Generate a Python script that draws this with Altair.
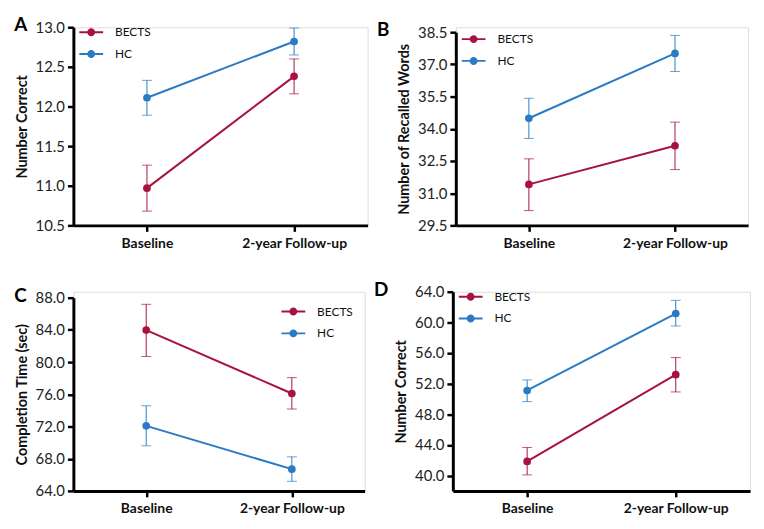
import altair as alt
import pandas as pd

groups = ["BECTS", "HC"]
times = ["Baseline", "2-year Follow-up"]
colors = ["#A8123E", "#2B7BC4"]

# Panel A
a_bects_mean = [10.97, 12.38]
a_bects_lo = [10.68, 12.16]
a_bects_hi = [11.26, 12.60]
a_hc_mean = [12.11, 12.82]
a_hc_lo = [11.89, 12.65]
a_hc_hi = [12.33, 12.99]

# Panel B
b_bects_mean = [31.41, 33.21]
b_bects_lo = [30.19, 32.10]
b_bects_hi = [32.60, 34.31]
b_hc_mean = [34.49, 37.51]
b_hc_lo = [33.55, 36.67]
b_hc_hi = [35.42, 38.35]

# Panel C
c_bects_mean = [83.98, 76.10]
c_bects_lo = [80.70, 74.17]
c_bects_hi = [87.18, 78.07]
c_hc_mean = [72.08, 66.70]
c_hc_lo = [69.60, 65.19]
c_hc_hi = [74.58, 68.23]

# Panel D
d_bects_mean = [41.85, 53.18]
d_bects_lo = [40.09, 50.92]
d_bects_hi = [43.66, 55.41]
d_hc_mean = [51.11, 61.16]
d_hc_lo = [49.66, 59.53]
d_hc_hi = [52.49, 62.88]

a_ticks = [10.5, 11.0, 11.5, 12.0, 12.5, 13.0]
b_ticks = [29.5, 31.0, 32.5, 34.0, 35.5, 37.0, 38.5]
c_ticks = [64.0, 68.0, 72.0, 76.0, 80.0, 84.0, 88.0]
d_ticks = [40.0, 44.0, 48.0, 52.0, 56.0, 60.0, 64.0]

FONT = "Lato"
LEG_PATH = "M-1.5,-0.12H-0.4V0.12H-1.5ZM0.4,-0.12H1.5V0.12H0.4ZM0.5,0A0.5,0.5,0,1,1,-0.5,0A0.5,0.5,0,1,1,0.5,0Z"


def make_df(bm, bl, bh, hm, hl, hh):
    rows = []
    for g, m, lo, hi in [("BECTS", bm, bl, bh), ("HC", hm, hl, hh)]:
        for i, t in enumerate(times):
            rows.append({"group": g, "time": t, "mean": m[i], "lo": lo[i], "hi": hi[i]})
    return pd.DataFrame(rows)


def panel(df, letter, ytitle, domain, ticks, w, h, yrange, leg, dx):
    base = alt.Chart(df)
    x = alt.X("time:N", sort=times, scale=alt.Scale(type="point", padding=0.5),
              axis=alt.Axis(title=None, labelAngle=0, labelFont=FONT, labelFontSize=14,
                            labelFontWeight="bold", labelColor="#111", labelPadding=5,
                            domainColor="black", domainWidth=3, tickColor="black",
                            tickWidth=2.5, tickSize=6))
    yscale = alt.Scale(domain=domain, nice=False, zero=False, range=yrange)
    yaxis = alt.Axis(values=ticks, format=".1f", title=ytitle, titleFont=FONT,
                     titleFontSize=14.5, titleFontWeight="bold", titleColor="#111",
                     titlePadding=6, labelFont=FONT, labelFontSize=15, labelColor="#222",
                     labelPadding=3, domainColor="black", domainWidth=3,
                     tickColor="black", tickWidth=2.5, tickSize=6, grid=False)
    col = alt.Color("group:N", scale=alt.Scale(domain=groups, range=colors), legend=None)
    rule = base.mark_rule(strokeWidth=1).encode(
        x=x, y=alt.Y("lo:Q", scale=yscale, axis=yaxis), y2="hi:Q", color=col)
    cap_lo = base.mark_tick(size=10, thickness=1).encode(
        x=x, y=alt.Y("lo:Q", scale=yscale, axis=yaxis), color=col)
    cap_hi = base.mark_tick(size=10, thickness=1).encode(
        x=x, y=alt.Y("hi:Q", scale=yscale, axis=yaxis), color=col)
    line = base.mark_line(strokeWidth=2).encode(
        x=x, y=alt.Y("mean:Q", scale=yscale, axis=yaxis), color=col, detail="group:N")
    pts = base.mark_circle(size=60, opacity=1).encode(
        x=x, y=alt.Y("mean:Q", scale=yscale, axis=yaxis),
        fill=alt.Fill("group:N", scale=alt.Scale(domain=groups, range=colors),
                      legend=leg))
    return alt.layer(rule, cap_lo, cap_hi, line, pts).properties(
        width=w, height=h,
        title=alt.TitleParams(letter, anchor="start", frame="bounds", font=FONT,
                              fontSize=19, fontWeight="bold", color="black",
                              offset=-15, dx=dx))


leg_a = alt.Legend(title=None, orient="none", legendX=9, legendY=-4)
leg_b = alt.Legend(title=None, orient="top-left", offset=3, symbolOffset=6)
leg_c = alt.Legend(title=None, orient="top-right", offset=11)
leg_d = alt.Legend(title=None, orient="none", legendX=9, legendY=-4)

pa = panel(make_df(a_bects_mean, a_bects_lo, a_bects_hi, a_hc_mean, a_hc_lo, a_hc_hi),
           "A", "Number Correct", [10.5, 13.0], a_ticks, 297, 200, [200, 0], leg_a, 0)
pb = panel(make_df(b_bects_mean, b_bects_lo, b_bects_hi, b_hc_mean, b_hc_lo, b_hc_hi),
           "B", "Number of Recalled Words", [29.5, 38.5], b_ticks, 295, 200, [200, 5], leg_b, -20)
pc = panel(make_df(c_bects_mean, c_bects_lo, c_bects_hi, c_hc_mean, c_hc_lo, c_hc_hi),
           "C", "Completion Time (sec)", [64.0, 88.0], c_ticks, 294, 201, [201, 6], leg_c, 0)
pd_ = panel(make_df(d_bects_mean, d_bects_lo, d_bects_hi, d_hc_mean, d_hc_lo, d_hc_hi),
            "D", "Number Correct", [38.0, 64.0], d_ticks, 300, 201, [201, 0], leg_d, -20)

row1 = alt.hconcat(pa, pb, spacing=7)
row2 = alt.hconcat(pc, pd_, spacing=7)
chart = alt.vconcat(row1, row2, spacing=29).resolve_scale(
    fill="independent", color="independent", y="independent", x="independent"
).resolve_legend(fill="independent").configure_view(stroke=None).configure(
    background="white"
).configure_legend(symbolType=LEG_PATH, symbolSize=256, labelFont=FONT, labelFontSize=12,
                   labelColor="#111", labelOffset=15, rowPadding=7)

chart.save("out.html", embed_options={"renderer": "svg", "actions": False})
